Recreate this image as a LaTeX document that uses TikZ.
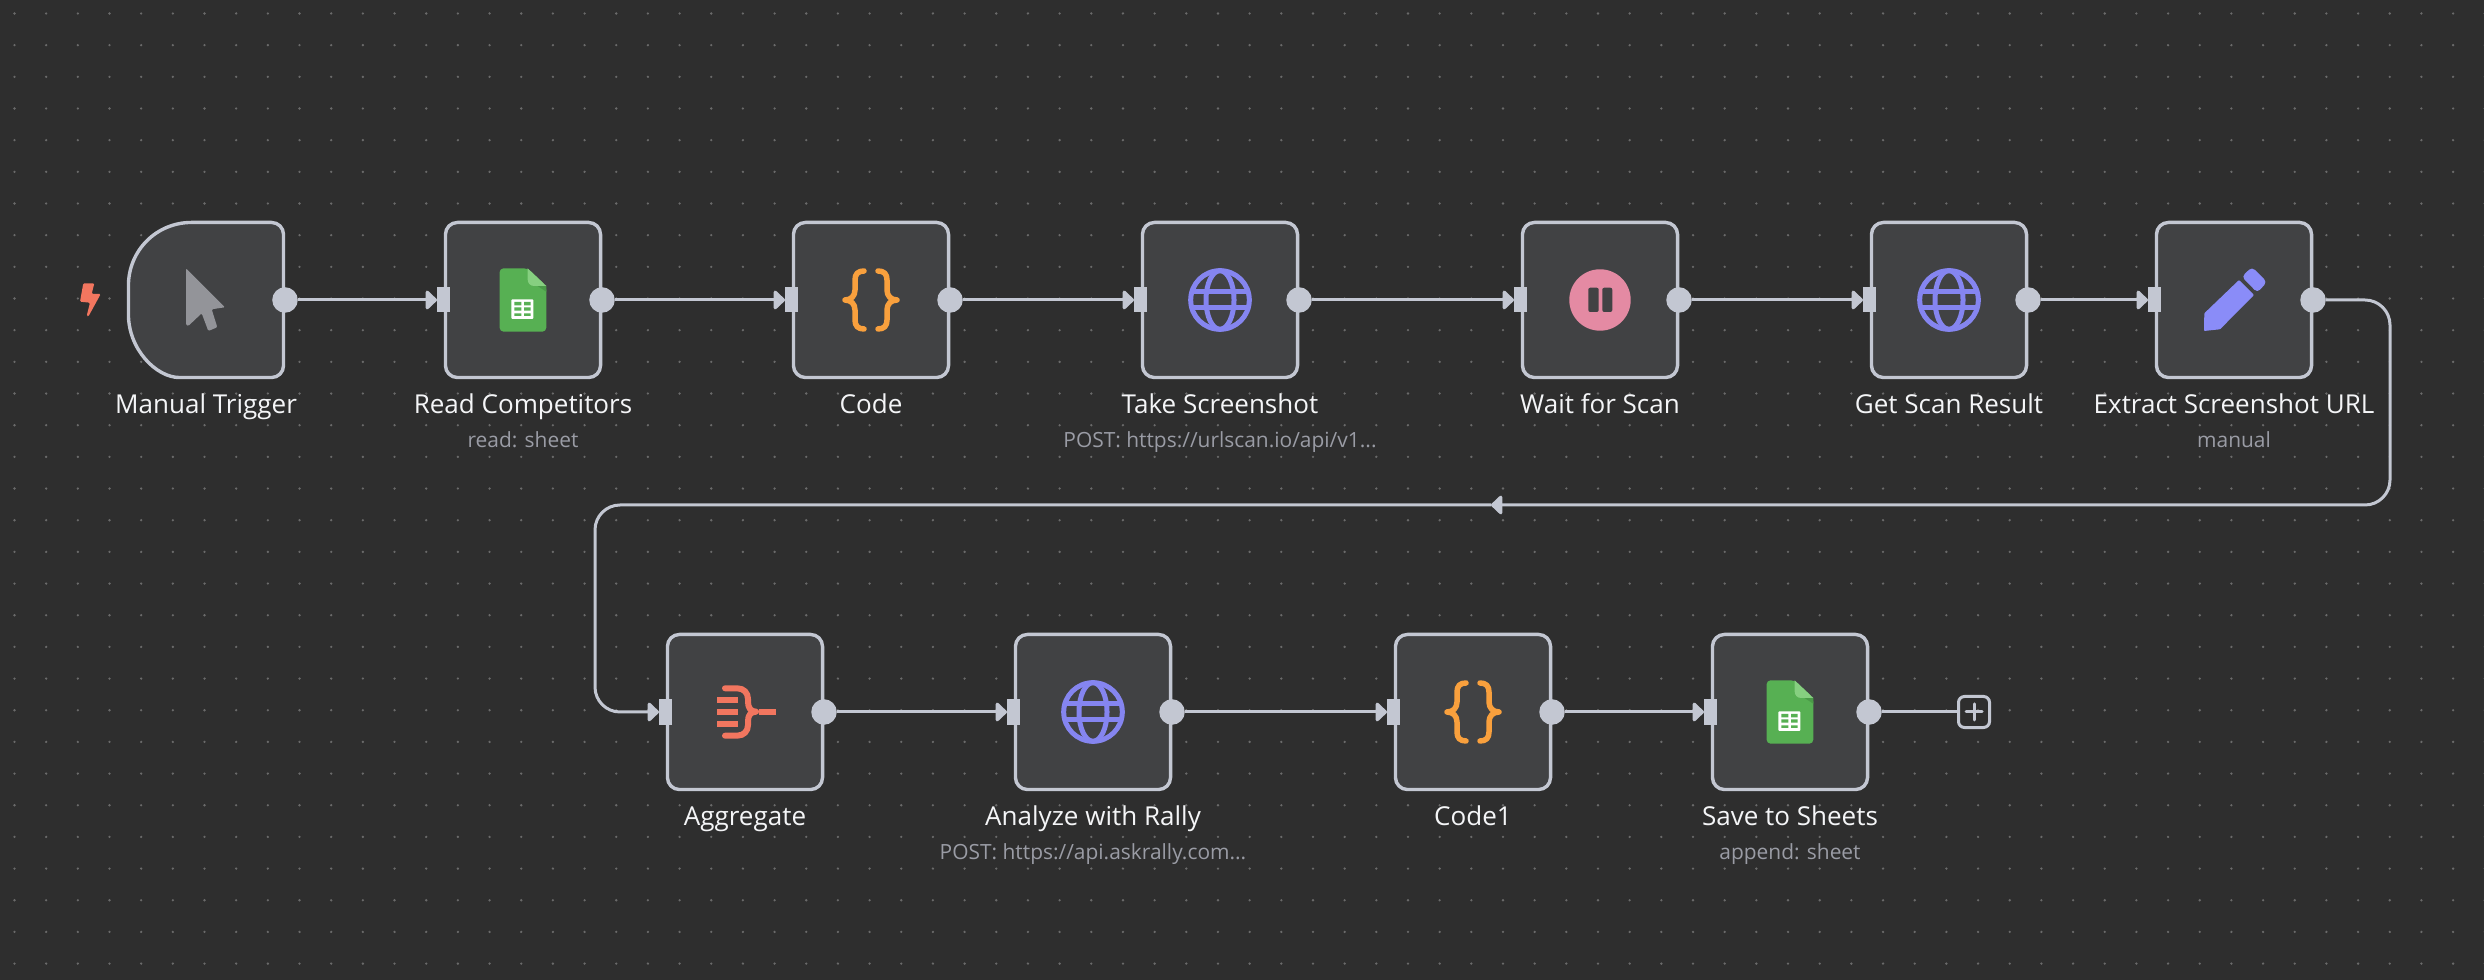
\documentclass[tikz,border=0pt]{standalone}
\usepackage{fontspec}
\setmainfont{Open Sans}
\usepackage{tikz}
\usetikzlibrary{arrows.meta}
\definecolor{canvas}{HTML}{2E2E2E}
\definecolor{griddot}{HTML}{6A6A6A}
\definecolor{boxfill}{HTML}{414244}
\definecolor{wire}{HTML}{C3C7D2}
\definecolor{titletext}{HTML}{F4F5F7}
\definecolor{subtext}{HTML}{9A9CA5}
\definecolor{globecol}{HTML}{8585F0}
\definecolor{pencilcol}{HTML}{8A8CF8}
\definecolor{bracecol}{HTML}{F9A03D}
\definecolor{redcol}{HTML}{F2765F}
\definecolor{pausecol}{HTML}{E48AA3}
\definecolor{cursorcol}{HTML}{939499}
\definecolor{sheetcol}{HTML}{57B053}
\definecolor{sheetlight}{HTML}{86CF80}
\definecolor{sheetdark}{HTML}{4A9A48}

\begin{document}
\begin{tikzpicture}[x=0.01cm,y=-0.01cm,
        box/.style={rectangle,rounded corners=0.12cm,draw=wire,fill=boxfill,line width=0.034cm,minimum width=1.55cm,minimum height=1.55cm,inner sep=0},
        inport/.style={rectangle,fill=wire,minimum width=0.13cm,minimum height=0.25cm,inner sep=0,outer sep=0},
        outport/.style={circle,fill=wire,minimum size=0.255cm,inner sep=0,outer sep=0},
        title/.style={anchor=base,text=titletext,font=\fontsize{7.4pt}{8pt}\selectfont,inner sep=0},
        sub/.style={anchor=base,text=subtext,font=\fontsize{5.95pt}{7pt}\selectfont,inner sep=0},
        link/.style={color=wire,line width=0.03cm,-{Triangle[length=0.12cm,width=0.22cm,round,fill=wire]}},
        plainlink/.style={color=wire,line width=0.03cm},
        globe/.pic={
            \draw[globecol,line width=0.05cm] (0,0) circle [radius=0.293cm];
            \draw[globecol,line width=0.05cm] (0,0) ellipse [x radius=0.14cm,y radius=0.293cm];
            \draw[globecol,line width=0.05cm] (-28,-8) -- (28,-8) (-28,8) -- (28,8);
        },
        curly/.pic={
            \draw[bracecol,line width=0.055cm,line cap=round,line join=round] (-7,-29) .. controls (-13,-29) and (-16,-26) .. (-16,-20) -- (-16,-10) .. controls (-16,-4) and (-20,0) .. (-26,0) .. controls (-20,0) and (-16,4) .. (-16,10) -- (-16,20) .. controls (-16,26) and (-13,29) .. (-7,29);
            \draw[bracecol,line width=0.055cm,line cap=round,line join=round] (7,-29) .. controls (13,-29) and (16,-26) .. (16,-20) -- (16,-10) .. controls (16,-4) and (20,0) .. (26,0) .. controls (20,0) and (16,4) .. (16,10) -- (16,20) .. controls (16,26) and (13,29) .. (7,29);
        },
        sheet/.pic={
            \fill[sheetcol,rounded corners=0.04cm] (-23.4,-31.7) -- (4.6,-31.7) -- (23.3,-14) -- (23.3,31.7) -- (-23.4,31.7) -- cycle;
            \fill[sheetdark] (10.3,-16.7) -- (23.3,-14) -- (23.3,-8.3) -- cycle;
            \fill[sheetlight] (4.6,-31.7) -- (23.3,-14) -- (11,-14) .. controls (7,-14) and (4.6,-17) .. (4.6,-21) -- cycle;
            \fill[white,rounded corners=0.01cm] (-11.7,-0.7) rectangle (10.3,19);
            \fill[sheetcol] (-8.7,2) rectangle (-1.7,5.3) (1,2) rectangle (7.7,5.3)
                (-8.7,7.3) rectangle (-1.7,10.7) (1,7.3) rectangle (7.7,10.7)
                (-8.7,13.3) rectangle (-1.7,16) (1,13.3) rectangle (7.7,16);
        }]

        \fill[canvas] (0,0) rectangle (2484,980);
        \useasboundingbox (0,0) rectangle (2484,980);
        \foreach \i in {0,...,78}
            \foreach \j in {0,...,30}
                \fill[griddot] ({14.5+31.67*\i},{13.5+31.67*\j}) circle (0.013cm);

        \node[box,draw=none,fill=none,outer sep=0] (n1) at (206,300) {};
        \fill[boxfill,draw=wire,line width=0.034cm] (n1.east) [rounded corners=0.12cm] -- (n1.south east) -- ([xshift=0.63cm]n1.south west) [sharp corners] .. controls ([xshift=0.28cm]n1.south west) and ([yshift=0.28cm]n1.south west) .. ([yshift=0.63cm]n1.south west) -- ([yshift=-0.63cm]n1.north west) .. controls ([yshift=-0.28cm]n1.north west) and ([xshift=0.28cm]n1.north west) .. ([xshift=0.63cm]n1.north west) [rounded corners=0.12cm] -- (n1.north east) -- cycle;
        \node[box] (n2) at (523,300) {};
        \node[box] (n3) at (871,300) {};
        \node[box] (n4) at (1220,300) {};
        \node[box] (n5) at (1600,300) {};
        \node[box] (n6) at (1949,300) {};
        \node[box] (n7) at (2234,300) {};

        \node[box] (m1) at (745,712) {};
        \node[box] (m2) at (1093,712) {};
        \node[box] (m3) at (1473,712) {};
        \node[box] (m4) at (1790,712) {};

        \node[outport] (n1o) at (285,300) {};
        \node[inport]  (n2i) at (443.5,300) {};
        \node[outport] (n2o) at (602,300) {};
        \node[inport]  (n3i) at (791.5,300) {};
        \node[outport] (n3o) at (950,300) {};
        \node[inport]  (n4i) at (1140.5,300) {};
        \node[outport] (n4o) at (1299,300) {};
        \node[inport]  (n5i) at (1520.5,300) {};
        \node[outport] (n5o) at (1679,300) {};
        \node[inport]  (n6i) at (1869.5,300) {};
        \node[outport] (n6o) at (2028,300) {};
        \node[inport]  (n7i) at (2154.5,300) {};
        \node[outport] (n7o) at (2313,300) {};

        \node[inport]  (m1i) at (665.5,712) {};
        \node[outport] (m1o) at (824,712) {};
        \node[inport]  (m2i) at (1013.5,712) {};
        \node[outport] (m2o) at (1172,712) {};
        \node[inport]  (m3i) at (1393.5,712) {};
        \node[outport] (m3o) at (1552,712) {};
        \node[inport]  (m4i) at (1710.5,712) {};
        \node[outport] (m4o) at (1869,712) {};

        \node[rectangle,rounded corners=0.06cm,draw=wire,line width=0.03cm,minimum size=0.31cm,inner sep=0] (add) at (1974,712) {};
        \draw[wire,line width=0.03cm,line cap=round] ([xshift=-0.08cm]add.center) -- ([xshift=0.08cm]add.center) ([yshift=-0.08cm]add.center) -- ([yshift=0.08cm]add.center);

        \coordinate (tr) at (2390,300);
        \coordinate (br) at (2390,505);
        \coordinate (mid) at (1491,505);
        \coordinate (bl) at (595,505);
        \coordinate (tl) at (595,712);

        \path[link]
                  (n1o) edge (n2i)
                  (n2o) edge (n3i)
                  (n3o) edge (n4i)
                  (n4o) edge (n5i)
                  (n5o) edge (n6i)
                  (n6o) edge (n7i)

                  (m1o) edge (m2i)
                  (m2o) edge (m3i)
                  (m3o) edge (m4i);

        \draw[plainlink] (m4o) -- (add);
        \draw[link,rounded corners=0.25cm] (n7o) -- (tr) -- (br) -- (mid);
        \draw[link,rounded corners=0.25cm] (mid) -- (bl) -- (tl) -- (m1i);

        \node[title] (t1) at (206,414) {Manual Trigger};
        \node[title] (t2) at (523,414) {Read Competitors};
        \node[title] (t3) at (871,414) {Code};
        \node[title] (t4) at (1220,414) {Take Screenshot};
        \node[title] (t5) at (1600,414) {Wait for Scan};
        \node[title] (t6) at (1949,414) {Get Scan Result};
        \node[title] (t7) at (2234,414) {Extract Screenshot URL};
        \node[sub] (s2) at (523,448) {read: sheet};
        \node[sub] (s4) at (1220,448) {POST: https://urlscan.io/api/v1...};
        \node[sub] (s7) at (2234,448) {manual};

        \node[title] (u1) at (745,826) {Aggregate};
        \node[title] (u2) at (1093,826) {Analyze with Rally};
        \node[title] (u3) at (1473,826) {Code1};
        \node[title] (u4) at (1790,826) {Save to Sheets};
        \node[sub] (v2) at (1093,860) {POST: https://api.askrally.com...};
        \node[sub] (v4) at (1790,860) {append: sheet};

        \fill[redcol,rounded corners=0.012cm] (83.3,283.3) -- (94.3,283.3) -- (91.7,294) -- (100.7,294) -- (88.3,316.7) -- (86.7,315.7) -- (90,302.7) -- (80,301.7) -- cycle;
        \fill[cursorcol,rounded corners=0.012cm] (186,268.3) -- (225,307.3) -- (211.7,309.3) -- (217.3,327.3) -- (208.3,331) -- (201.7,313.3) -- (188.3,326) -- (186,325) -- cycle;

        \pic at (n2) {sheet};
        \pic at (n3) {curly};
        \pic at (n4) {globe};
        \fill[pausecol] (n5) circle (0.307cm);
        \fill[boxfill,rounded corners=0.02cm] (1588.3,287.7) rectangle (1598.7,312) (1602.3,287.7) rectangle (1612.3,312);
        \pic at (n6) {globe};
        \fill[pencilcol,rounded corners=0.008cm] (2239,280) -- (2254,295) -- (2220,329.3) -- (2204,331) -- (2204.3,313.3) -- cycle;
        \fill[pencilcol,rounded corners=0.04cm] (2241.7,276.7) -- (2252,267) -- (2267,282) -- (2257.3,292.7) -- cycle;

        \draw[redcol,line width=0.06cm] (717.3,700) -- (737.7,700) (717.3,711.7) -- (737.7,711.7) (717.3,723.7) -- (737.7,723.7) (759.3,711.7) -- (776,711.7);
        \draw[redcol,line width=0.06cm,line cap=round,line join=round] (725,688.3) -- (737,688.3) .. controls (744,688.3) and (748,693) .. (748,699) -- (748,702) .. controls (748,708) and (751,711.7) .. (756,711.7) .. controls (751,711.7) and (748,715) .. (748,721) -- (748,725) .. controls (748,731) and (744,735.7) .. (737,735.7) -- (725,735.7);
        \pic at (m2) {globe};
        \pic at (m3) {curly};
        \pic at (m4) {sheet};
    \end{tikzpicture}
\end{document}
